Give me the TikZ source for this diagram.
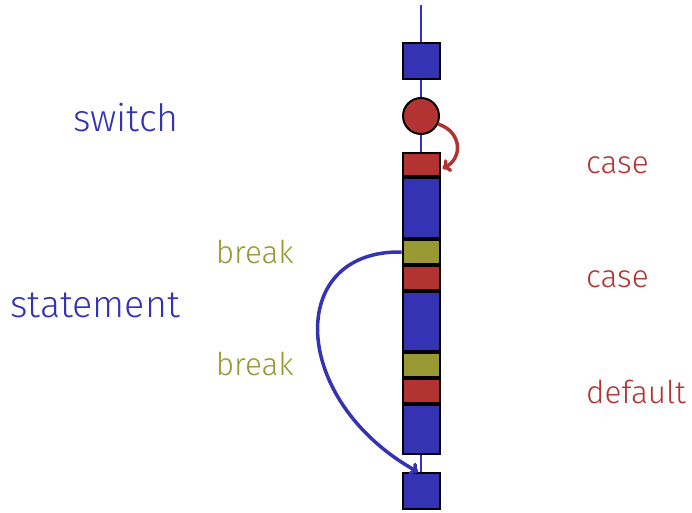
\documentclass[tikz,border=0pt]{standalone}
\usepackage{fontspec}
\setmainfont{Fira Sans Light}
\usetikzlibrary{arrows.meta}
\definecolor{blueC}{RGB}{51,51,179}
\definecolor{redC}{RGB}{179,51,51}
\definecolor{oliveC}{RGB}{153,153,51}
\tikzset{
  blk/.style={draw=black, line width=2pt, inner sep=0pt, minimum width=37pt},
  bluebox/.style={blk, fill=blueC},
  redbox/.style={blk, fill=redC},
  olivebox/.style={blk, fill=oliveC},
  conn/.style={draw=blueC, line width=2.2pt},
  bigtxt/.style={text=blueC, font=\fontsize{37.6}{40}\selectfont, inner sep=0pt},
  brktxt/.style={text=oliveC, font=\fontsize{31.5}{34}\selectfont, inner sep=0pt},
  casetxt/.style={text=redC, font=\fontsize{31.5}{34}\selectfont, inner sep=0pt},
}
\begin{document}
\begin{tikzpicture}[x=1pt,y=-1pt]
\useasboundingbox (0,0) rectangle (692,512);
\coordinate (top) at (421,5);
\draw[conn] (top) -- (421,120);
\draw[conn] (421,116) -- (421,160);
\draw[conn] (421,440) -- (421,480);
\node[bluebox, minimum height=36pt] (sq1) at (421,61) {};
\node[draw=black, line width=2pt, fill=redC, circle, minimum size=36pt, inner sep=0pt] (circ) at (421,116) {};
\node[redbox, minimum height=23pt] (r1) at (421,164.5) {};
\node[bluebox, minimum height=60pt] (b1) at (421,208) {};
\node[olivebox, minimum height=24pt] (o1) at (421,252) {};
\node[redbox, minimum height=24pt] (r2) at (421,278) {};
\node[bluebox, minimum height=59pt] (b2) at (421,321.5) {};
\node[olivebox, minimum height=24pt] (o2) at (421,365) {};
\node[redbox, minimum height=24pt] (r3) at (421,391) {};
\node[bluebox, minimum height=49pt] (b3) at (421,429.5) {};
\node[bluebox, minimum height=36pt] (sq2) at (421,491) {};
% break arrow
\draw[conn, line width=3.5pt, -{To[length=8pt,width=14pt]}] (o1.west) .. controls (285,250) and (290,400) .. ([xshift=-3pt]sq2.north);
% case arrow
\draw[draw=redC, line width=3.5pt, -{To[length=8pt,width=14pt]}] (circ.-25) .. controls (462,132) and (463,158) .. ([xshift=2pt,yshift=-4pt]r1.east);
% labels
\node[bigtxt, anchor=base east] (sw) at (179,131) {switch};
\node[bigtxt, anchor=base east] (st) at (180,317) {statement};
\node[brktxt, anchor=base east] (br1) at (294,263) {break};
\node[brktxt, anchor=base east] (br2) at (294,375) {break};
\node[casetxt, anchor=base west] (c1) at (586,173) {case};
\node[casetxt, anchor=base west] (c2) at (586,287) {case};
\node[casetxt, anchor=base west] (df) at (586,403) {default};
\end{tikzpicture}
\end{document}
